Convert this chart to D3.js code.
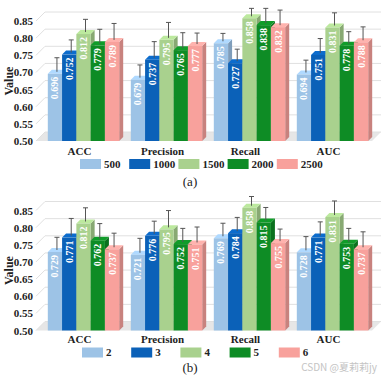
<!DOCTYPE html>
<html>
<head>
<meta charset="utf-8">
<script src="https://cdn.jsdelivr.net/npm/d3@7"></script>
<style>
  body { margin: 0; background: #fff; }
  svg { display: block; }
</style>
</head>
<body>
<div id="chart"></div>
<script>
// data
const metrics = ["ACC", "Precision", "Recall", "AUC"];
const ticks = [0.50, 0.55, 0.60, 0.65, 0.70, 0.75, 0.80, 0.85];
const colors = ["#9dc3e6", "#0b61b8", "#a9d18e", "#0e8c25", "#f8a19c"];

const seriesA = ["500", "1000", "1500", "2000", "2500"];
const valuesA = [ // per metric, per series
  [0.696, 0.752, 0.812, 0.779, 0.789],
  [0.679, 0.737, 0.795, 0.765, 0.777],
  [0.785, 0.727, 0.858, 0.838, 0.832],
  [0.694, 0.751, 0.831, 0.778, 0.788]
];
const errorsA = [
  [0.041, 0.037, 0.037, 0.041, 0.048],
  [0.037, 0.047, 0.045, 0.045, 0.032],
  [0.023, 0.035, 0.023, 0.043, 0.044],
  [0.036, 0.042, 0.037, 0.035, 0.039]
];

const seriesB = ["2", "3", "4", "5", "6"];
const valuesB = [
  [0.729, 0.771, 0.812, 0.762, 0.737],
  [0.721, 0.776, 0.795, 0.752, 0.751],
  [0.769, 0.784, 0.858, 0.815, 0.755],
  [0.728, 0.771, 0.831, 0.753, 0.737]
];
const errorsB = [
  [0.037, 0.050, 0.040, 0.044, 0.041],
  [0.042, 0.037, 0.049, 0.040, 0.045],
  [0.038, 0.040, 0.027, 0.038, 0.035],
  [0.040, 0.040, 0.041, 0.039, 0.045]
];

const width = 382, height = 375;
const serif = "'Liberation Serif', 'Times New Roman', serif";

const svg = d3.select("#chart").append("svg")
  .attr("width", width)
  .attr("height", height);

// lay = y positions (relative to panel top) of category labels, legend and tag
function drawPanel(top, series, values, errors, tag, lay) {
  const g = svg.append("g").attr("transform", `translate(0,${top})`);
  const base = 141, depth = 9, bd = 4; // back wall depth, bar depth

  let y = d3.scaleLinear().domain([0.5, 0.85]).range([base, 21]);
  let x0 = d3.scaleBand().domain(metrics).range([42, 374])
    .paddingInner(0.14).paddingOuter(0.07);
  let x1 = d3.scaleBand().domain(series).range([0, x0.bandwidth()]);
  let color = d3.scaleOrdinal().domain(series).range(colors);

  // floor
  g.append("path")
    .attr("d", `M36,${base}L${36 + depth},${base - depth}L${381},${base - depth}L${372},${base}Z`)
    .attr("fill", "#e6e6e6");

  // back wall gridlines + side wall diagonals
  ticks.forEach(t => {
    g.append("line")
      .attr("x1", 36 + depth).attr("x2", 381)
      .attr("y1", y(t) - depth).attr("y2", y(t) - depth)
      .attr("stroke", "#e0e0e0").attr("stroke-width", 1);
    g.append("line")
      .attr("x1", 36).attr("x2", 36 + depth)
      .attr("y1", y(t)).attr("y2", y(t) - depth)
      .attr("stroke", "#e0e0e0").attr("stroke-width", 1);
  });

  // y axis labels
  g.append("g")
    .attr("transform", "translate(35,0)")
    .call(d3.axisLeft(y).tickValues(ticks).tickFormat(d3.format(".2f")).tickSize(0).tickPadding(2))
    .call(a => a.select(".domain").remove())
    .selectAll("text")
    .attr("font-family", serif).attr("font-weight", "bold")
    .attr("font-size", 11).attr("fill", "#222");

  g.append("text")
    .attr("transform", `translate(13,${(y(0.5) + y(0.85)) / 2}) rotate(-90)`)
    .attr("text-anchor", "middle")
    .attr("font-family", serif).attr("font-weight", "bold")
    .attr("font-size", 12).attr("fill", "#222")
    .text("Value");

  // bars
  metrics.forEach((m, i) => {
    let grp = g.append("g").attr("transform", `translate(${x0(m)},0)`);
    series.forEach((s, j) => {
      let v = values[i][j], e = errors[i][j];
      let bx = x1(s), w = x1.bandwidth(), yv = y(v);
      let c = d3.color(color(s));
      // side face
      grp.append("path")
        .attr("d", `M${bx + w},${yv}L${bx + w + bd},${yv - bd}L${bx + w + bd},${base - bd}L${bx + w},${base}Z`)
        .attr("fill", c.darker(0.6));
      // top face
      grp.append("path")
        .attr("d", `M${bx},${yv}L${bx + bd},${yv - bd}L${bx + w + bd},${yv - bd}L${bx + w},${yv}Z`)
        .attr("fill", c.brighter(0.3));
      // front
      grp.append("rect")
        .attr("x", bx).attr("y", yv)
        .attr("width", w).attr("height", base - yv)
        .attr("fill", c);
      // error bar
      let ex = bx + w / 2 + bd / 2, ey = y(v + e) - bd / 2;
      grp.append("line")
        .attr("x1", ex).attr("x2", ex)
        .attr("y1", yv - bd / 2).attr("y2", ey)
        .attr("stroke", "#555").attr("stroke-width", 1);
      grp.append("line")
        .attr("x1", ex - 2.5).attr("x2", ex + 2.5)
        .attr("y1", ey).attr("y2", ey)
        .attr("stroke", "#555").attr("stroke-width", 1);
      // value label
      grp.append("text")
        .attr("transform", `translate(${bx + w / 2},${yv + 3}) rotate(-90)`)
        .attr("text-anchor", "end")
        .attr("dy", "0.35em")
        .attr("font-family", serif).attr("font-weight", "bold")
        .attr("font-size", 10).attr("fill", "#fff")
        .text(d3.format(".3f")(v));
    });
    // category label
    g.append("text")
      .attr("x", x0(m) + x0.bandwidth() / 2 - 4)
      .attr("y", lay.cat)
      .attr("text-anchor", "middle")
      .attr("font-family", serif).attr("font-weight", "bold")
      .attr("font-size", 11).attr("fill", "#222")
      .text(m);
  });

  // legend
  let leg = g.append("g").attr("transform", `translate(${lay.legX},${lay.leg})`);
  series.forEach((s, j) => {
    let it = leg.append("g").attr("transform", `translate(${j * 49.2},0)`);
    it.append("rect")
      .attr("x", 0).attr("y", -5)
      .attr("width", 21).attr("height", 10)
      .attr("fill", color(s));
    it.append("text")
      .attr("x", 24).attr("y", 0).attr("dy", "0.35em")
      .attr("font-family", serif).attr("font-weight", "bold")
      .attr("font-size", 11).attr("fill", "#222")
      .text(s);
  });

  // panel tag
  g.append("text")
    .attr("x", 190).attr("y", lay.tag)
    .attr("text-anchor", "middle")
    .attr("font-family", serif)
    .attr("font-size", 13).attr("fill", "#222")
    .text(tag);
}

drawPanel(0, seriesA, valuesA, errorsA, "(a)", { cat: 155, leg: 164, legX: 80, tag: 186 });
drawPanel(189.5, seriesB, valuesB, errorsB, "(b)", { cat: 153.5, leg: 163, legX: 82, tag: 182 });

// watermark
svg.append("text")
  .attr("x", 377).attr("y", 371)
  .attr("text-anchor", "end")
  .attr("font-family", "'Noto Sans CJK SC', 'Noto Sans', sans-serif")
  .attr("font-size", 10).attr("fill", "#c4c4c4")
  .text("CSDN @夏莉莉jy");
</script>
</body>
</html>
